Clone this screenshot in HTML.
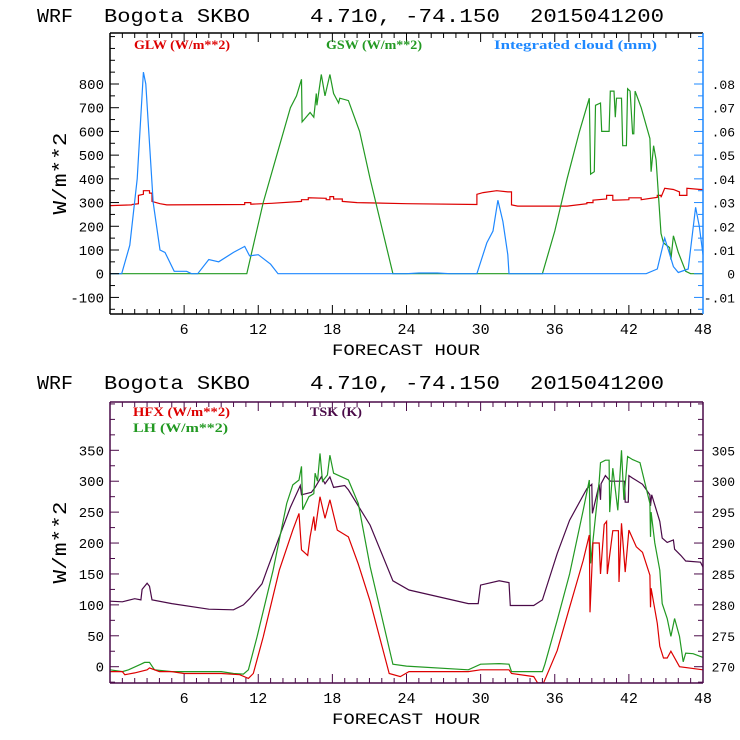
<!DOCTYPE html>
<html><head><meta charset="utf-8"><style>
body{margin:0;background:#fff}
svg{display:block}
text{font-family:"Liberation Mono",monospace}
.leg{font-family:"Liberation Serif",serif;font-weight:600;font-size:13px}
</style></head><body>
<svg id="c" width="740" height="740" viewBox="0 0 740 740" xmlns="http://www.w3.org/2000/svg"></svg>
<script>
const hourTicks=[6,12,18,24,30,36,42,48];
const topLeftTicks=[-100,0,100,200,300,400,500,600,700,800];
const topRightTicks=[-0.01,0,0.01,0.02,0.03,0.04,0.05,0.06,0.07,0.08];
const topRightLabels=["-.01","0",".01",".02",".03",".04",".05",".06",".07",".08"];
const botLeftTicks=[0,50,100,150,200,250,300,350];
const botRightTicks=[270,275,280,285,290,295,300,305];
// GLW (W/m2)
const glwH=[0,1.75,1.8,2.3,2.3,2.7,2.7,3.2,3.2,3.4,3.4,4.05,4.6,10.9,10.9,11.4,11.4,13.1,15.5,15.5,16.05,16.05,17.5,17.5,17.8,17.8,18.1,18.1,18.8,18.8,20,24,29.7,29.7,30.2,31.3,32.2,32.5,32.5,33,37,38.6,38.6,39.1,39.1,40.2,40.2,40.7,40.7,42,42,43,43,44.3,44.3,44.6,44.6,44.9,45.6,46.1,46.1,46.7,46.7,47.8,48];
const glwV=[287,290,292,295,330,335,350,350,340,340,305,295,290,292,300,300,293,297,305,312,312,320,318,312,312,325,325,315,315,305,300,295,292,335,342,350,345,345,290,285,285,295,300,300,310,315,330,330,310,312,320,320,312,322,330,330,322,360,355,345,330,330,360,355,355];
// GSW (W/m2)
const gswH=[0,11.07,12.4,13.5,14.6,15.1,15.5,15.55,16.2,16.5,16.7,16.75,17.1,17.4,17.8,18.1,18.5,18.6,19.3,20.2,21.05,22.9,35,36,37,38,38.8,38.9,39.2,39.3,39.7,39.8,40.4,40.5,40.8,40.9,41.0,41.4,41.5,41.8,41.9,42.1,42.3,42.4,42.5,43,43.7,43.8,44,44.2,44.6,44.8,45.3,45.4,45.6,46,46.6,47,48];
const gswV=[0,0,300,500,700,750,820,640,680,660,760,710,840,750,840,760,720,740,730,600,400,0,0,180,400,600,740,420,430,710,720,600,600,770,770,660,740,740,540,540,780,770,590,590,770,700,570,430,540,480,170,130,110,60,160,90,10,0,0];
// Integrated cloud (mm)
const cldH=[0,0.95,1.6,2.2,2.7,2.9,3.5,4.05,4.45,5.2,5.6,6.2,6.6,7.1,8.0,8.8,10,10.9,11.3,12,13,13.6,24,25,26.5,27.5,29.7,30.5,31.0,31.4,31.8,32.2,32.3,43.4,44.3,44.9,45.2,45.6,46.0,46.8,47.4,47.7,48];
const cldV=[0,0,0.012,0.04,0.085,0.08,0.03,0.01,0.009,0.001,0.001,0.001,0,0,0.006,0.005,0.009,0.0115,0.0075,0.008,0.004,0,0,0.0003,0.0003,0,0,0.013,0.018,0.031,0.022,0.008,0,0,0.002,0.015,0.01,0.003,0.0005,0.002,0.028,0.02,0.008];
// HFX (W/m2)
const hfxH=[0,1,1.2,2,3,3.2,4,5,6,9,10.5,11.2,11.6,12.4,13.7,14.8,15.3,15.5,16,16.2,16.5,16.6,17,17.4,17.8,18.4,19.3,20.1,21.05,22.6,23.5,24.2,29,30,32.3,32.5,34.3,34.6,35.1,36.2,37.2,38.3,38.8,38.85,39.1,39.6,39.7,40.0,40.2,40.25,40.7,41.15,41.2,41.4,41.7,42,42.6,43.1,43.7,43.75,43.8,44.3,44.5,44.8,45.1,45.4,46.1,48];
const hfxV=[-8,-8,-13,-10,-5,-2,-8,-8,-11,-11,-13,-19,-11,48,156,221,248,189,180,210,243,220,275,240,270,221,210,166,106,-11,-16,-8,-8,-5,-5,-11,-16,-26,-26,26,96,172,213,88,200,200,150,230,235,150,220,220,137,232,153,221,194,185,148,96,127,70,33,14,14,25,0,-5];
// LH (W/m2)
const lhH=[0,1,1.5,2.5,2.8,3.2,3.6,5,9,10,10.8,11.2,11.9,13.2,14.3,14.8,15.3,15.5,15.6,16.1,16.5,16.6,16.8,17.0,17.2,17.6,17.8,18.1,19.3,20.1,21.05,22.9,24,29,30,31.5,32.3,32.5,35,35.2,36.2,37.2,38.3,38.8,38.9,39.6,39.7,40.1,40.4,40.45,40.7,41.1,41.4,41.6,41.9,42.3,42.9,43.7,43.75,43.8,44.1,44.5,44.7,45.1,45.4,45.7,46.1,46.4,46.6,47.2,48];
const lhV=[-5,-8,-5,4,7,7,-5,-8,-8,-11,-12,-5,48,156,264,294,302,324,254,275,280,313,300,345,300,310,342,313,302,264,162,4,1,-5,4,5,4,-8,-8,4,75,150,253,302,167,300,330,334,334,250,321,253,350,270,340,335,330,264,210,250,200,156,102,78,49,78,49,8,22,21,15];
// TSK (K)
const tskH=[0,1,2,2.5,2.6,3.0,3.2,3.4,5,8,10,10.8,11.3,12.3,12.7,14.6,15.4,15.5,16.3,16.6,17.1,17.4,17.8,18.1,19,19.3,21.05,22.9,24.2,29,29.8,30.0,31.5,32.3,32.4,34.3,35,36.2,37.2,38.6,39.0,39.05,39.6,39.7,39.75,40.1,40.5,41.65,41.7,41.95,42.0,42.3,43.1,43.7,43.75,43.85,44.5,44.7,45.1,45.6,45.7,46.2,46.6,47.8,48];
const tskV=[280.6,280.5,281,280.8,282.5,283.5,283,280.8,280.2,279.3,279.2,280,281,283.4,285.6,295.8,299.3,297.8,298.2,299,300.7,299.6,300.7,299,299.3,298.6,292.9,283.9,282.4,280.2,280.2,283.2,283.9,283.6,279.9,279.9,280.8,288.3,293.7,298.8,299.5,294.8,299.5,297,299.6,300.9,300,300,296.6,296.6,300.9,300.5,299.5,297.8,296,297.8,293.5,290.8,290.1,290.5,289,288,287.1,286.9,286.1];

const NS='http://www.w3.org/2000/svg';
const svg=document.getElementById('c');
function mk(tag,attrs,parent){const e=document.createElementNS(NS,tag);for(const k in attrs)e.setAttribute(k,attrs[k]);(parent||svg).appendChild(e);return e;}
const X0=110,X1=703;
function xs(h){return X0+(X1-X0)*h/48;}
const RED='#dd0000',GRN='#229922',BLU='#1e88ff',PUR='#4a0a48';

function panel(p){
  const g=mk('g',{});
  
  
  const yl=v=>p.y0+(p.l0-v)*(p.y1-p.y0)/(p.l0-p.l1);
  const yr=v=>p.y0+(p.r0-v)*(p.y1-p.y0)/(p.r0-p.r1);
  const tt=[["WRF",37],["Bogota SKBO",104],["4.710, -74.150",310],["2015041200",530]];
  const tl=[36,146,190,134];
  tt.forEach((t,i)=>{const e=mk('text',{x:t[1],y:p.ty,'font-size':19,fill:'#000',textLength:tl[i],lengthAdjust:'spacingAndGlyphs'},g);e.textContent=t[0];
    });
  p.series.forEach(s=>{
    const pts=s.h.map((h,i)=>xs(h).toFixed(1)+','+(s.right?yr(s.v[i]):yl(s.v[i])).toFixed(1)).join(' ');
    const e=mk('polyline',{points:pts,fill:'none',stroke:s.c,'stroke-width':1.2},g);
    
  });
  const fc=p.fc;
  mk('line',{x1:X0,y1:p.ft,x2:X1,y2:p.ft,stroke:fc,'stroke-width':1.5},g);
  mk('line',{x1:X0,y1:p.fb,x2:X1,y2:p.fb,stroke:fc,'stroke-width':1.5},g);
  mk('line',{x1:X0,y1:p.ft,x2:X0,y2:p.fb,stroke:fc,'stroke-width':1.5},g);
  const ra=mk('line',{x1:X1,y1:p.ft,x2:X1,y2:p.fb,stroke:p.rc,'stroke-width':1.5},g);
  
  for(let h=1;h<48;h++){const x=xs(h),L=(h%6==0)?9:5;
    mk('line',{x1:x,y1:p.fb,x2:x,y2:p.fb-L,stroke:fc},g);mk('line',{x1:x,y1:p.ft,x2:x,y2:p.ft+L,stroke:fc},g);}
  hourTicks.forEach(h=>{const e=mk('text',{x:xs(h),y:p.fb+20,'font-size':15,'text-anchor':'middle',fill:'#000'},g);e.textContent=h;
    });
  const xt=mk('text',{x:406,y:p.fb+41,'font-size':16,'text-anchor':'middle',fill:'#000',textLength:148,lengthAdjust:'spacingAndGlyphs'},g);xt.textContent='FORECAST HOUR';
  
  for(let v=p.lmin;v<=p.lmax+1e-9;v+=p.lminor){const y=yl(v);if(y<p.ft||y>p.fb)continue;
    const major=p.lt.some(t=>Math.abs(t-v)<1e-6);mk('line',{x1:X0,y1:y,x2:X0+(major?9:5),y2:y,stroke:fc},g);}
  p.lt.forEach(v=>{const e=mk('text',{x:X0-6,y:yl(v)+5,'font-size':14,'text-anchor':'end',fill:'#000'},g);e.textContent=v;
    });
  for(let v=p.rmin;v<=p.rmax+1e-9;v+=p.rminor){const y=yr(v);if(y<p.ft||y>p.fb)continue;
    const major=p.rt.some(t=>Math.abs(t-v)<1e-6);mk('line',{x1:X1,y1:y,x2:X1-(major?9:5),y2:y,stroke:p.rc},g);}
  p.rt.forEach((v,i)=>{const e=mk('text',{x:X1+32,y:yr(v)+5,'font-size':13,'text-anchor':'end',fill:'#000'},g);e.textContent=p.rl[i];
    });
  const yt=mk('text',{x:0,y:0,'font-size':19,'text-anchor':'middle',fill:'#000',transform:`translate(${p.ytx},${(p.ft+p.fb)/2}) rotate(-90)`,textLength:82,lengthAdjust:'spacingAndGlyphs'},g);
  yt.textContent='W/m**2';
  p.legend.forEach(l=>{const e=mk('text',{x:l[1],y:l[2],fill:l[3],'class':'leg',textLength:l[4],lengthAdjust:'spacingAndGlyphs'},g);e.textContent=l[0];
    });
}

panel({name:'top-panel',ty:22,ft:33,fb:314,y0:273.7,y1:84,l0:0,l1:800,r0:0,r1:0.08,
  lmin:-150,lmax:1000,lminor:50,lt:topLeftTicks,rmin:-0.015,rmax:0.1,rminor:0.005,rt:topRightTicks,rl:topRightLabels,
  fc:'#000',rc:BLU,ytx:66,
  legend:[['GLW (W/m**2)',134,49,RED,96],['GSW (W/m**2)',326,49,GRN,96],['Integrated cloud (mm)',494,49,BLU,163]],
  series:[{n:'glw-line',h:glwH,v:glwV,c:RED},{n:'gsw-line',h:gswH,v:gswV,c:GRN},{n:'cloud-line',h:cldH,v:cldV,c:BLU,right:true}]});

panel({name:'bottom-panel',ty:389,ft:402,fb:683,y0:666.7,y1:450.3,l0:0,l1:350,r0:270,r1:305,
  lmin:-25,lmax:425,lminor:25,lt:botLeftTicks,rmin:267.5,rmax:315,rminor:2.5,rt:botRightTicks,rl:botRightTicks.map(String),
  fc:PUR,rc:PUR,ytx:66,
  legend:[['HFX (W/m**2)',133,416,RED,97],['LH  (W/m**2)',133,432,GRN,95],['TSK (K)',310,416,PUR,52]],
  series:[{n:'tsk-line',h:tskH,v:tskV,c:PUR,right:true},{n:'lh-line',h:lhH,v:lhV,c:GRN},{n:'hfx-line',h:hfxH,v:hfxV,c:RED}]});
</script>
</body></html>
